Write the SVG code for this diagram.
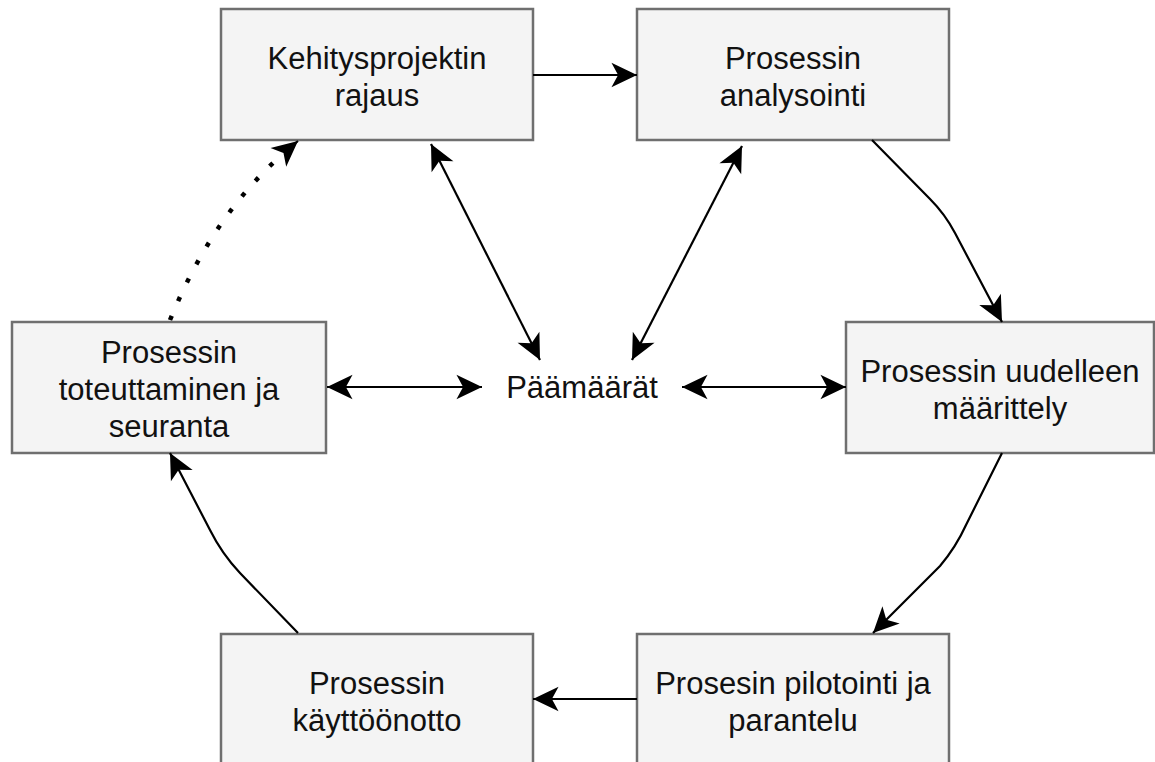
<svg xmlns="http://www.w3.org/2000/svg" width="1155" height="762" viewBox="0 0 1155 762">
  <style>
    .box { fill: #f4f4f4; stroke: #6f6f6f; stroke-width: 2.5; }
    .lbl { font-family: "Liberation Sans", Arial, sans-serif; font-size: 31px; fill: #111; text-anchor: middle; }
    .edge { fill: none; stroke: #000; stroke-width: 2.2; }
    .dots { fill: none; stroke: #000; stroke-width: 4.5; stroke-dasharray: 4.5 16; }
  </style>
  <defs>
    <marker id="head" markerUnits="userSpaceOnUse" markerWidth="30" markerHeight="30" viewBox="-25 -13 27 26" refX="0" refY="0" orient="auto-start-reverse">
      <path d="M0,0 L-23,-11 L-17,0 L-23,11 Z" fill="#000"/>
    </marker>
  </defs>

  <rect width="1155" height="762" fill="#fff"/>

  <g id="node-rajaus">
    <rect class="box" x="221" y="9" width="312" height="131"/>
    <text class="lbl" x="377" y="69">Kehitysprojektin</text>
    <text class="lbl" x="377" y="106">rajaus</text>
  </g>
  <g id="node-analysointi">
    <rect class="box" x="637" y="9" width="312" height="131"/>
    <text class="lbl" x="793" y="69">Prosessin</text>
    <text class="lbl" x="793" y="106">analysointi</text>
  </g>
  <g id="node-toteuttaminen">
    <rect class="box" x="12" y="322" width="314" height="131"/>
    <text class="lbl" x="169" y="363">Prosessin</text>
    <text class="lbl" x="169" y="400">toteuttaminen ja</text>
    <text class="lbl" x="169" y="437">seuranta</text>
  </g>
  <g id="node-maarittely">
    <rect class="box" x="846" y="322" width="308" height="131"/>
    <text class="lbl" x="1000" y="382">Prosessin uudelleen</text>
    <text class="lbl" x="1000" y="419">määrittely</text>
  </g>
  <g id="node-kayttoonotto">
    <rect class="box" x="221" y="634" width="312" height="131"/>
    <text class="lbl" x="377" y="694">Prosessin</text>
    <text class="lbl" x="377" y="731">käyttöönotto</text>
  </g>
  <g id="node-pilotointi">
    <rect class="box" x="637" y="634" width="312" height="131"/>
    <text class="lbl" x="793" y="694">Prosesin pilotointi ja</text>
    <text class="lbl" x="793" y="731">parantelu</text>
  </g>
  <g id="node-paamaarat">
    <text class="lbl" x="582" y="398">Päämäärät</text>
  </g>

  <g id="connectors">
    <path class="edge" d="M533,75 L637,75" marker-end="url(#head)"/>
    <path class="edge" d="M872,140 L930,199 Q945,214 955,233 L1002,322" marker-end="url(#head)"/>
    <path class="edge" d="M1002,453 L966,525 Q956,547 940,566 L873,633" marker-end="url(#head)"/>
    <path class="edge" d="M637,699 L533,699" marker-end="url(#head)"/>
    <path class="edge" d="M298,633 L240,573 Q222,554 210,530 L170,453" marker-end="url(#head)"/>
    <path class="dots" d="M170,320 Q215,210 290,148"/>
    <path class="edge" d="M286,151 L298,141" marker-end="url(#head)"/>
    <path class="edge" d="M431,144 L540,360" marker-start="url(#head)" marker-end="url(#head)"/>
    <path class="edge" d="M742,146 L632,360" marker-start="url(#head)" marker-end="url(#head)"/>
    <path class="edge" d="M327,387 L482,387" marker-start="url(#head)" marker-end="url(#head)"/>
    <path class="edge" d="M682,387 L846,387" marker-start="url(#head)" marker-end="url(#head)"/>
  </g>
</svg>
